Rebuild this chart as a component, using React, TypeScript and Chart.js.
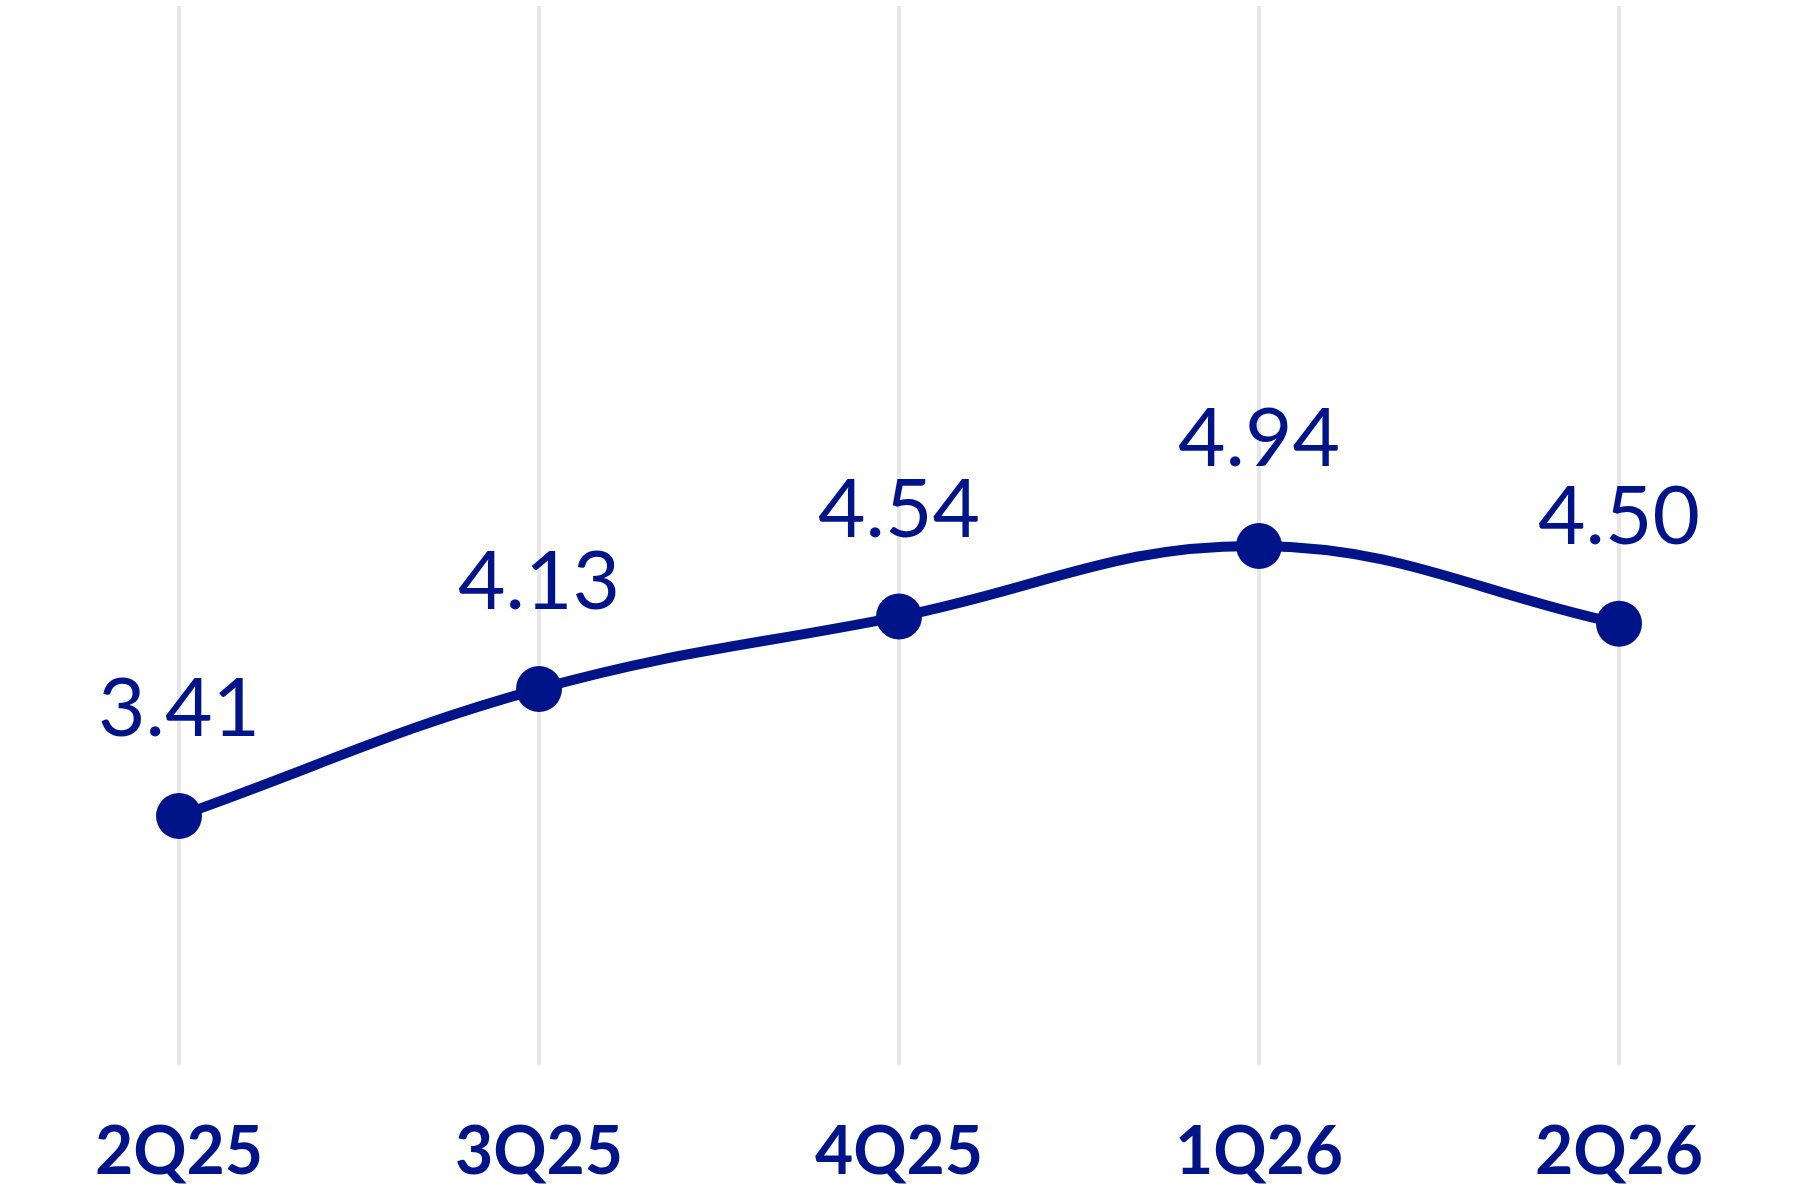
import { useEffect, useRef } from "react";
import { Chart, registerables, type ChartConfiguration, type Plugin } from "chart.js";

Chart.register(...registerables);

const NAVY = "#001489";
const GRID = "#e6e6e6";

const quarters = ["2Q25", "3Q25", "4Q25", "1Q26", "2Q26"];
const values = [3.41, 4.13, 4.54, 4.94, 4.5];
const yMin = 2;
const yMax = 8;

// draws the value above each point
const valueLabels: Plugin<"line"> = {
  id: "valueLabels",
  afterDatasetsDraw(chart) {
    const { ctx } = chart;
    const meta = chart.getDatasetMeta(0);
    ctx.save();
    ctx.fillStyle = NAVY;
    ctx.font = "400 82px Lato, 'Open Sans', sans-serif";
    ctx.textAlign = "center";
    ctx.textBaseline = "alphabetic";
    meta.data.forEach((pt, i) => {
      ctx.fillText(values[i].toFixed(2), pt.x, pt.y - 80);
    });
    ctx.restore();
  },
};

export default function App() {
  const canvasRef = useRef<HTMLCanvasElement | null>(null);
  const chartRef = useRef<Chart<"line"> | null>(null);

  useEffect(() => {
    document.body.style.margin = "0";
    const canvas = canvasRef.current;
    if (!canvas) return;

    const config: ChartConfiguration<"line"> = {
      type: "line",
      data: {
        labels: quarters,
        datasets: [
          {
            data: values,
            borderColor: NAVY,
            backgroundColor: NAVY,
            borderWidth: 10,
            tension: 0.4,
            pointRadius: 23,
            pointBorderWidth: 0,
            pointBackgroundColor: NAVY,
            fill: false,
            clip: false,
          },
        ],
      },
      options: {
        responsive: false,
        animation: false,
        layout: { autoPadding: false, padding: { left: 179, right: 181, top: 6, bottom: -40 } },
        plugins: {
          legend: { display: false },
          tooltip: { enabled: false },
        },
        scales: {
          x: {
            offset: false,
            border: { display: false },
            grid: { color: GRID, lineWidth: 4, drawTicks: false },
            ticks: {
              color: NAVY,
              padding: 48,
              font: { size: 66, weight: 700, family: "Lato, 'Open Sans', sans-serif" },
            },
          },
          y: {
            display: false,
            min: yMin,
            max: yMax,
          },
        },
      },
      plugins: [valueLabels],
    };

    chartRef.current?.destroy();
    chartRef.current = new Chart(canvas, config);
    return () => {
      chartRef.current?.destroy();
      chartRef.current = null;
    };
  }, []);

  return (
    <div style={{ width: 1800, height: 1200, background: "#fff" }}>
      <canvas ref={canvasRef} width={1800} height={1200} style={{ width: 1800, height: 1200 }} />
    </div>
  );
}
